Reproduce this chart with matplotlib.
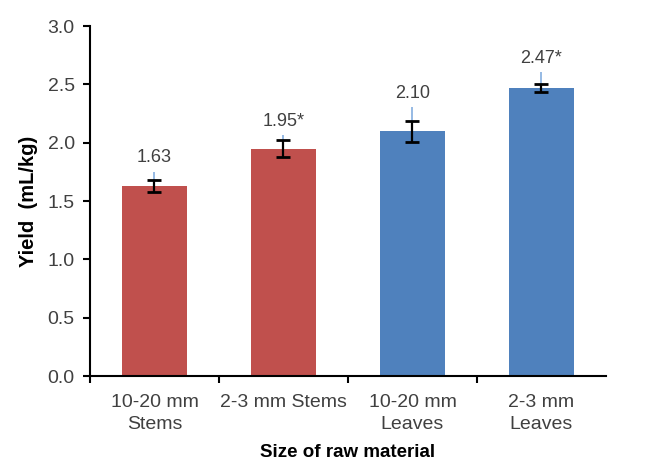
import matplotlib.pyplot as plt
import numpy as np

plt.rcParams['font.family'] = ['Liberation Sans', 'DejaVu Sans']

categories = ['10-20 mm\nStems', '2-3 mm Stems', '10-20 mm\nLeaves', '2-3 mm\nLeaves']
yields = [1.63, 1.95, 2.10, 2.47]
errors = [0.05, 0.07, 0.09, 0.035]
upper_spread = [0.12, 0.115, 0.205, 0.135]  # light blue upper whisker
value_labels = ['1.63', '1.95*', '2.10', '2.47*']
bar_colors = ['#C0504D', '#C0504D', '#4F81BD', '#4F81BD']

fig = plt.figure(figsize=(6.54, 4.66), dpi=100)
ax = fig.add_axes([0.1376, 0.193, 0.789, 0.751])

x = np.arange(len(categories))
ax.bar(x, yields, width=0.5, color=bar_colors, zorder=2)

# light blue whisker above, black error bar on top
ax.errorbar(x, yields, yerr=[np.zeros(len(x)), upper_spread], fmt='none',
            ecolor='#8DB4E2', elinewidth=1.3, capsize=0, zorder=3)
ax.errorbar(x, yields, yerr=errors, fmt='none', ecolor='black',
            elinewidth=1.6, capsize=5, capthick=2, zorder=4)

for xi, v, up, lab in zip(x, yields, upper_spread, value_labels):
    ax.annotate(lab, (xi, v + up), xytext=(0, 4), textcoords='offset points',
                ha='center', va='bottom', fontsize=13, color='#404040')

ax.set_xlim(-0.5, 3.5)
ax.set_ylim(0, 3.0)
ax.set_yticks(np.arange(0, 3.01, 0.5))
ax.set_yticklabels([f'{t:.1f}' for t in np.arange(0, 3.01, 0.5)])
ax.set_xticks(x)
ax.set_xticklabels(categories)
for t in ax.get_xticklabels():
    t.set_linespacing(1.35)
ax.set_xticks([-0.5, 0.5, 1.5, 2.5], minor=True)
ax.tick_params(axis='x', which='major', length=0, pad=13, labelsize=14, labelcolor='#404040')
ax.tick_params(axis='x', which='minor', length=5, width=1.5, direction='out')
ax.tick_params(axis='y', length=5, width=1.5, direction='out', labelsize=14,
               labelcolor='#404040', pad=6)

for s in ['top', 'right']:
    ax.spines[s].set_visible(False)
for s in ['left', 'bottom']:
    ax.spines[s].set_linewidth(1.5)

ax.set_ylabel('Yield  (mL/kg)', fontsize=14.5, fontweight='bold', labelpad=7)
ax.set_xlabel('Size of raw material', fontsize=13.5, fontweight='bold', labelpad=8)

fig.savefig('out.png', dpi=100)
